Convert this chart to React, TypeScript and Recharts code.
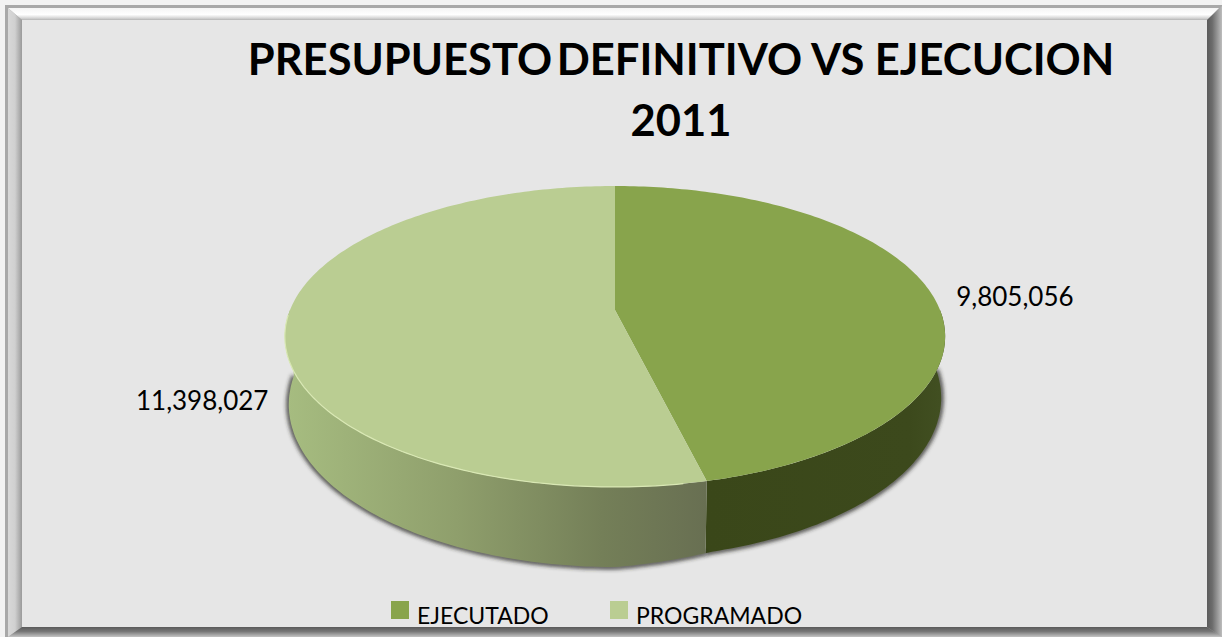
import { Legend, Pie, PieChart } from "recharts";

const categories = ["EJECUTADO", "PROGRAMADO"];
const values = [9805056, 11398027];
const colors = ["#88a44c", "#bacd92"];
const titleLines = ["PRESUPUESTO DEFINITIVO VS EJECUCION", "2011"];

const tableData = categories.map((name, i) => ({
  name,
  value: values[i],
  fill: colors[i],
}));

const FONT = "Lato, Carlito, sans-serif";
const TILT = 0.176; // perspective of the 3d pie
const SQUASH = 0.4486;
const DEPTH = 66;
const BOTTOM_SCALE = 0.988;
const LABEL_OFFSET = [
  { dx: 25, dy: 3 },
  { dx: -17, dy: 72 },
];

const RAD = Math.PI / 180;

function project(cx: number, cy: number, r: number, deg: number) {
  const u = Math.cos(deg * RAD);
  const v = -Math.sin(deg * RAD);
  const w = 1 - TILT * v;
  return { x: cx + (r * u) / w, y: cy + (r * SQUASH * v) / w, w, u };
}

function arcPoints(cx: number, cy: number, r: number, from: number, to: number) {
  const steps = Math.max(2, Math.ceil(Math.abs(to - from)));
  const pts = [];
  for (let i = 0; i <= steps; i++) {
    pts.push(project(cx, cy, r, from + ((to - from) * i) / steps));
  }
  return pts;
}

// the rim is a little thinner on the right hand side in the original
const toBottom = (cx: number, p: { x: number; y: number; w: number; u: number }) => {
  const thin = p.u > 0 ? 1 - 0.1 * Math.min(1, p.u / 0.25) : 1;
  return {
    x: cx + (p.x - cx) * BOTTOM_SCALE,
    y: p.y + (DEPTH * thin) / p.w,
  };
};

const line = (pts: { x: number; y: number }[]) =>
  pts.map((p, i) => `${i ? "L" : "M"}${p.x.toFixed(1)} ${p.y.toFixed(1)}`).join(" ");

function Slice3D(props: any) {
  const { cx, cy, outerRadius, startAngle, endAngle, fill, index } = props;
  const top = arcPoints(cx, cy, outerRadius, startAngle, endAngle);
  // only the front half of the rim shows
  const from = Math.max(Math.min(startAngle, endAngle), -180);
  const to = Math.min(Math.max(startAngle, endAngle), 0);
  const rim = from < to ? arcPoints(cx, cy, outerRadius, from, to) : [];
  const rimBottom = rim.map((p) => toBottom(cx, p));
  const side = line(rim) + " " + line([...rimBottom].reverse()).replace("M", "L") + " Z";
  const apex = { x: cx, y: cy };
  return (
    <g>
      {rim.length > 0 && (
        <>
          <path
            d={line(rimBottom)}
            fill="none"
            stroke="#2c2c28"
            strokeWidth={4}
            filter="url(#pieShadow)"
          />
          <path d={side} fill={`url(#side${index})`} />
        </>
      )}
      <path d={line([apex, ...top]) + " Z"} fill={fill} />
      {index === 1 && (
        <path
          d={line(arcPoints(cx, cy, outerRadius, -80, -178))}
          fill="none"
          stroke="#d9e8b4"
          strokeWidth={1.2}
        />
      )}
    </g>
  );
}

function renderLabel(props: any) {
  const { cx, cy, outerRadius, midAngle, index, value } = props;
  const p = project(cx, cy, outerRadius, midAngle);
  const off = LABEL_OFFSET[index];
  return (
    <text
      x={p.x + off.dx}
      y={p.y + off.dy}
      textAnchor={index === 0 ? "start" : "end"}
      dominantBaseline="central"
      fontFamily={FONT}
      fontSize={26}
      fill="#000"
    >
      {value.toLocaleString("en-US")}
    </text>
  );
}

function renderLegend({ payload }: any) {
  return (
    <div style={{ display: "flex", fontFamily: FONT, fontSize: 23, color: "#000" }}>
      {(payload || []).map((item: any, i: number) => (
        <div
          key={item.value}
          style={{ display: "flex", alignItems: "center", width: i === 0 ? 219 : 200 }}
        >
          <span
            style={{
              width: 18,
              height: 18,
              background: item.color,
              marginRight: 8,
              flex: "none",
            }}
          />
          <span style={{ position: "relative", top: 5 }}>{item.value}</span>
        </div>
      ))}
    </div>
  );
}

function Frame() {
  return (
    <svg width={1222} height={637} style={{ position: "absolute", left: 0, top: 0 }}>
      <defs>
        <linearGradient id="bevelTop" x1="0" y1="0" x2="0" y2="1">
          <stop offset="0%" stopColor="#f4f4f4" />
          <stop offset="55%" stopColor="#ffffff" />
          <stop offset="85%" stopColor="#d4d4d4" />
          <stop offset="100%" stopColor="#b4b4b4" />
        </linearGradient>
        <linearGradient id="bevelLeft" x1="0" y1="0" x2="1" y2="0">
          <stop offset="0%" stopColor="#d8d8d8" />
          <stop offset="50%" stopColor="#d0d0d0" />
          <stop offset="100%" stopColor="#9a9a9a" />
        </linearGradient>
        <linearGradient id="bevelRight" x1="0" y1="0" x2="1" y2="0">
          <stop offset="0%" stopColor="#5a5a5a" />
          <stop offset="35%" stopColor="#6c6c6c" />
          <stop offset="100%" stopColor="#bdbdbd" />
        </linearGradient>
        <linearGradient id="bevelBottom" x1="0" y1="0" x2="0" y2="1">
          <stop offset="0%" stopColor="#5a5a5a" />
          <stop offset="45%" stopColor="#777777" />
          <stop offset="100%" stopColor="#c4c4c4" />
        </linearGradient>
      </defs>
      <rect width={1222} height={637} fill="#f2f2f2" />
      <rect x={5} y={5} width={1217} height={632} fill="#a8a8a8" />
      <polygon points="8,8 1219,8 1207,20 22,20" fill="url(#bevelTop)" />
      <polygon points="8,8 22,20 22,627 8,637" fill="url(#bevelLeft)" />
      <polygon points="1222,6 1222,637 1207,627 1207,20" fill="url(#bevelRight)" />
      <polygon points="8,637 22,627 1207,627 1222,637" fill="url(#bevelBottom)" />
      <rect x={22} y={20} width={1185} height={607} fill="#e6e6e6" />
    </svg>
  );
}

const firstSpace = titleLines[0].indexOf(" ");

export default function App() {
  return (
    <div style={{ position: "absolute", left: 0, top: 0, width: 1222, height: 637, overflow: "hidden" }}>
      <Frame />
      <div style={{ position: "absolute", left: 0, top: 0 }}>
        <PieChart width={1222} height={637} margin={{ top: 0, right: 0, bottom: 0, left: 0 }}>
          <defs>
            <filter id="pieShadow" x="-5%" y="-5%" width="110%" height="120%">
              <feGaussianBlur stdDeviation="2" />
            </filter>
            <linearGradient id="side1" gradientUnits="userSpaceOnUse" x1="288" y1="0" x2="707" y2="0">
              <stop offset="0%" stopColor="#a6bc80" />
              <stop offset="40%" stopColor="#8f9f6c" />
              <stop offset="75%" stopColor="#747f58" />
              <stop offset="100%" stopColor="#686f52" />
            </linearGradient>
            <linearGradient id="side0" gradientUnits="userSpaceOnUse" x1="707" y1="0" x2="945" y2="0">
              <stop offset="0%" stopColor="#3a4719" />
              <stop offset="85%" stopColor="#3c491c" />
              <stop offset="100%" stopColor="#425022" />
            </linearGradient>
          </defs>
          <Pie
            data={tableData}
            dataKey="value"
            nameKey="name"
            cx={615}
            cy={310}
            outerRadius={325}
            startAngle={90}
            endAngle={-270}
            stroke="none"
            shape={Slice3D}
            label={renderLabel}
            labelLine={false}
            isAnimationActive={false}
          />
          <Legend
            content={renderLegend}
            wrapperStyle={{ position: "absolute", left: 391, top: 596, width: 440, bottom: "auto" }}
          />
          <text x={681} y={75} textAnchor="middle" fontFamily={FONT} fontWeight={700} fontSize={43.5} fill="#000">
            <tspan>{titleLines[0].slice(0, firstSpace)}</tspan>
            <tspan dx={-6}>{titleLines[0].slice(firstSpace)}</tspan>
          </text>
          <text x={681} y={136} textAnchor="middle" fontFamily={FONT} fontWeight={700} fontSize={43.5} fill="#000">
            {titleLines[1]}
          </text>
        </PieChart>
      </div>
    </div>
  );
}
